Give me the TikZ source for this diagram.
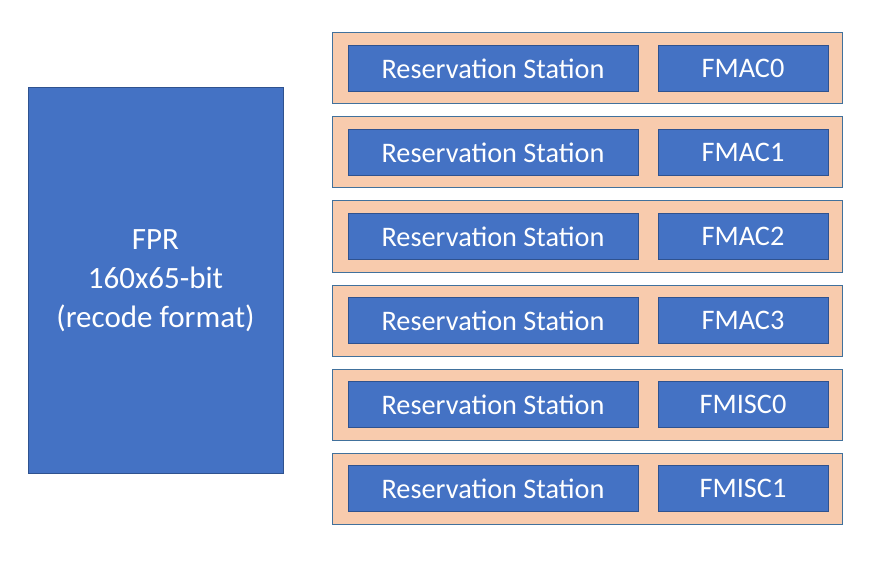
\documentclass[tikz,border=0pt]{standalone}
\usepackage{fontspec}
\setmainfont{Carlito}
\definecolor{boxblue}{HTML}{4472C4}
\definecolor{boxedge}{HTML}{2F528F}
\definecolor{peach}{HTML}{F8CBAD}
\definecolor{peachedge}{HTML}{41719C}
\begin{document}
\begin{tikzpicture}[x=1pt,y=-1pt,
  bluebox/.style={draw=boxedge,fill=boxblue,line width=1pt,text=white,font=\fontsize{28.3}{34}\selectfont,inner sep=0pt},
  rowbox/.style={draw=peachedge,fill=peach,line width=1pt,inner sep=0pt}]
\useasboundingbox (0,0) rectangle (876,567);
\node[bluebox,minimum width=255,minimum height=385,align=center,font=\fontsize{31}{39}\selectfont] (fpr) at (155.5,280.5) {FPR\\160x65-bit\\(recode format)};
\foreach \i/\lab in {0/FMAC0,1/FMAC1,2/FMAC2,3/FMAC3,4/FMISC0,5/FMISC1}{
  \pgfmathsetmacro{\yc}{68.5+84*\i}
  \node[rowbox,minimum width=510,minimum height=71] (row\i) at (587,\yc) {};
  \node[bluebox,minimum width=290,minimum height=46] (rs\i) at (493,\yc) {Reservation Station};
  \node[bluebox,minimum width=170,minimum height=46] (fu\i) at (743,\yc) {\lab};
}
\end{tikzpicture}
\end{document}
